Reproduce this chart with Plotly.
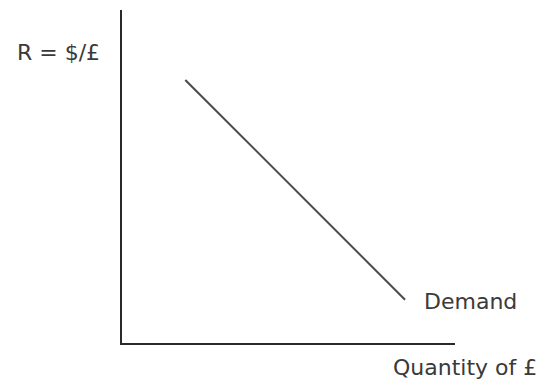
import plotly.graph_objects as go

# Demand schedule for sterling: quantity of £ against the $/£ rate
quantity = [1.9, 8.5]
rate = [7.9, 1.3]
curve_label = "Demand"
y_label = "R = $/£"
x_label = "Quantity of £"

TEXT = "#3a3a3a"
FONT = "DejaVu Sans, Verdana, sans-serif"

fig = go.Figure()
fig.add_trace(go.Scatter(
    x=quantity, y=rate, mode="lines",
    line=dict(color="#4a4a4a", width=2),
    hoverinfo="skip", showlegend=False,
))

axis_common = dict(
    showgrid=False, zeroline=False, showticklabels=False, ticks="",
    showline=True, linecolor="#2a2a2a", linewidth=2, fixedrange=True,
)
fig.update_layout(
    width=547, height=381,
    margin=dict(l=122, r=92, t=10, b=38),
    paper_bgcolor="white", plot_bgcolor="white",
    xaxis=dict(range=[0, 10], **axis_common),
    yaxis=dict(range=[0, 10], **axis_common),
    font=dict(family=FONT, size=22, color=TEXT),
)

fig.add_annotation(
    x=quantity[-1] + 0.5, y=rate[-1] - 0.05, xref="x", yref="y",
    text=curve_label, showarrow=False, xanchor="left", yanchor="middle",
)
# Axis captions sit outside the plotting area, so place them in paper units
fig.add_annotation(
    x=-0.192, y=0.871, xref="paper", yref="paper",
    text=y_label, showarrow=False, xanchor="center", yanchor="middle",
)
fig.add_annotation(
    x=0.808, y=-0.075, xref="paper", yref="paper",
    text=x_label, showarrow=False, xanchor="left", yanchor="middle",
)

fig.write_html("out.html")
